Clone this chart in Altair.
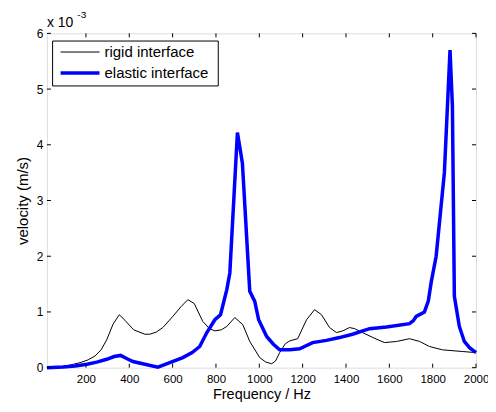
import altair as alt
import pandas as pd

# Frequency (Hz) and velocity (x 1e-3 m/s)
rigid_f = [20, 60, 94, 130, 173, 210, 242, 270, 296, 325, 354, 380, 420, 472, 495, 525,
           555, 601, 640, 670, 700, 739, 770, 795, 825, 850, 887, 924, 956, 1002, 1030,
           1057, 1075, 1094, 1120, 1140, 1177, 1218, 1255, 1287, 1324, 1356, 1385, 1416,
           1440, 1476, 1530, 1578, 1633, 1693, 1740, 1785, 1845, 1937, 2000]
rigid_v = [0.0, 0.01, 0.02, 0.05, 0.09, 0.14, 0.21, 0.32, 0.5, 0.78, 0.95, 0.85, 0.68, 0.6, 0.6, 0.64,
           0.72, 0.92, 1.1, 1.22, 1.15, 0.83, 0.7, 0.66, 0.68, 0.74, 0.9, 0.77, 0.47, 0.18, 0.1,
           0.07, 0.12, 0.27, 0.43, 0.48, 0.52, 0.86, 1.04, 0.95, 0.72, 0.63, 0.66, 0.72,
           0.7, 0.63, 0.53, 0.45, 0.47, 0.52, 0.47, 0.38, 0.32, 0.29, 0.27]

elastic_f = [20, 94, 150, 205, 250, 296, 330, 360, 390, 417, 472, 532, 587, 647, 690, 725, 758,
             795, 821, 850, 864, 899, 922, 956, 979, 997, 1034, 1065, 1094, 1140, 1186, 1246,
             1310, 1370, 1430, 1509, 1587, 1693, 1710, 1724, 1762, 1780, 1793, 1816, 1854, 1880,
             1891, 1900, 1923, 1946, 1970, 2000]
elastic_v = [0.0, 0.01, 0.03, 0.06, 0.1, 0.15, 0.2, 0.22, 0.16, 0.11, 0.06, 0.01, 0.09, 0.18, 0.27, 0.38, 0.63,
             0.86, 0.95, 1.4, 1.7, 4.22, 3.67, 1.37, 1.19, 0.86, 0.56, 0.42, 0.32, 0.32, 0.34, 0.45,
             0.49, 0.54, 0.6, 0.7, 0.73, 0.79, 0.84, 0.92, 1.0, 1.2, 1.53, 2.0, 3.5, 5.7,
             4.7, 1.28, 0.74, 0.47, 0.36, 0.27]

series_names = ["rigid interface", "elastic interface"]
x_ticks = [200, 400, 600, 800, 1000, 1200, 1400, 1600, 1800, 2000]
y_ticks = [0, 1, 2, 3, 4, 5, 6]

W, H = 430, 335
FONT = "Liberation Sans"

rigid_df = pd.DataFrame({"f": rigid_f, "v": rigid_v})
elastic_df = pd.DataFrame({"f": elastic_f, "v": elastic_v})

xscale = alt.Scale(domain=[20, 2000], nice=False, zero=False)
yscale = alt.Scale(domain=[0, 6], nice=False)

xaxis = alt.Axis(values=x_ticks, title="Frequency / Hz", ticks=False, domain=False, grid=False,
                 format="d", labelOverlap=False, labelFlush=False,
                 labelFont=FONT, labelFontSize=11.5, labelColor="black", labelPadding=6,
                 titleFont=FONT, titleFontSize=14.5, titleFontWeight="normal", titleColor="black",
                 titlePadding=2)
yaxis = alt.Axis(values=y_ticks, title="velocity (m/s)", ticks=False, domain=False, grid=False,
                 format="d", labelOverlap=False, labelFlush=False,
                 labelFont=FONT, labelFontSize=12, labelColor="black", labelPadding=4,
                 titleFont=FONT, titleFontSize=15, titleFontWeight="normal", titleColor="black",
                 titlePadding=6)

rigid = alt.Chart(rigid_df).mark_line(color="black", strokeWidth=1).encode(
    x=alt.X("f:Q", scale=xscale, axis=xaxis),
    y=alt.Y("v:Q", scale=yscale, axis=yaxis),
)
elastic = alt.Chart(elastic_df).mark_line(color="#0000ff", strokeWidth=3.5).encode(
    x=alt.X("f:Q", scale=xscale, axis=xaxis),
    y=alt.Y("v:Q", scale=yscale, axis=yaxis),
)

xt_df = pd.DataFrame({"f": x_ticks})
yt_df = pd.DataFrame({"v": y_ticks})
xt_bottom = alt.Chart(xt_df).mark_rule(color="black", strokeWidth=1).encode(
    x=alt.X("f:Q", scale=xscale, axis=xaxis), y=alt.value(H), y2=alt.value(H - 4))
xt_top = alt.Chart(xt_df).mark_rule(color="black", strokeWidth=1).encode(
    x=alt.X("f:Q", scale=xscale, axis=xaxis), y=alt.value(0), y2=alt.value(4))
yt_left = alt.Chart(yt_df).mark_rule(color="black", strokeWidth=1).encode(
    y=alt.Y("v:Q", scale=yscale, axis=yaxis), x=alt.value(0), x2=alt.value(4))
yt_right = alt.Chart(yt_df).mark_rule(color="black", strokeWidth=1).encode(
    y=alt.Y("v:Q", scale=yscale, axis=yaxis), x=alt.value(W), x2=alt.value(W - 4))

exp_base = alt.Chart(pd.DataFrame({"t": ["x 10"]})).mark_text(
    font=FONT, fontSize=14, align="left", baseline="alphabetic", color="black").encode(
    text="t:N", x=alt.value(0), y=alt.value(-6))
exp_sup = alt.Chart(pd.DataFrame({"t": ["-3"]})).mark_text(
    font=FONT, fontSize=10, align="left", baseline="alphabetic", color="black").encode(
    text="t:N", x=alt.value(30.5), y=alt.value(-15))

# legend
leg_box = alt.Chart(pd.DataFrame({"a": [0]})).mark_rect(
    fill="white", stroke="black", strokeWidth=1).encode(
    x=alt.value(5.7), x2=alt.value(171.7), y=alt.value(7.7), y2=alt.value(52.7))
leg_l1 = alt.Chart(pd.DataFrame({"a": [0]})).mark_rule(color="black", strokeWidth=1).encode(
    x=alt.value(13.7), x2=alt.value(52.7), y=alt.value(18.7))
leg_l2 = alt.Chart(pd.DataFrame({"a": [0]})).mark_rule(color="#0000ff", strokeWidth=3.5).encode(
    x=alt.value(13.7), x2=alt.value(52.7), y=alt.value(39.7))
leg_t1 = alt.Chart(pd.DataFrame({"name": [series_names[0]]})).mark_text(
    font=FONT, fontSize=15, align="left", baseline="middle", color="black").encode(
    text="name:N", x=alt.value(57.7), y=alt.value(18.7))
leg_t2 = alt.Chart(pd.DataFrame({"name": [series_names[1]]})).mark_text(
    font=FONT, fontSize=15, align="left", baseline="middle", color="black").encode(
    text="name:N", x=alt.value(57.7), y=alt.value(39.7))

chart = alt.layer(
    rigid, elastic, xt_bottom, xt_top, yt_left, yt_right, exp_base, exp_sup,
    leg_box, leg_l1, leg_l2, leg_t1, leg_t2,
).properties(
    width=W, height=H,
    autosize=alt.AutoSizeParams(type="none"),
    padding={"left": 39, "top": 25, "right": 12, "bottom": 36},
).configure_view(stroke="black", strokeWidth=1).configure(background="white")

chart.save("out.html", embed_options={"renderer": "svg", "actions": False})
